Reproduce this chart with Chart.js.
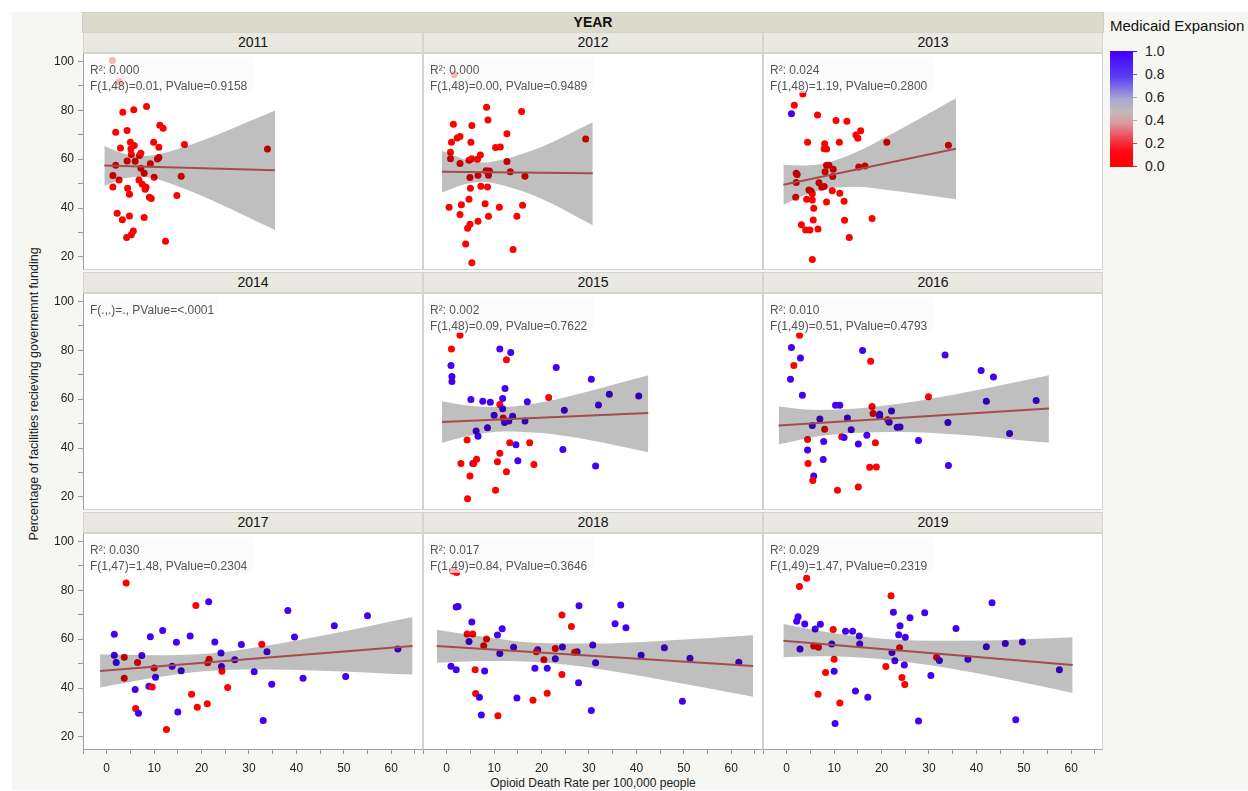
<!DOCTYPE html>
<html>
<head>
<meta charset="utf-8">
<script src="https://cdn.jsdelivr.net/npm/chart.js@4.4.1/dist/chart.umd.min.js"></script>
<style>
  body { margin: 0; background: #fff; font-family: 'Liberation Sans', Arial, sans-serif; }
  #wrap { position: relative; width: 1248px; height: 791px; overflow: hidden; }
  #wrap div, #wrap canvas { position: absolute; box-sizing: border-box; }
  .strip { background: #e9e8e1; border: 1px solid #d6d5cc; text-align: center; font-size: 14px; line-height: 19px; color: #111; }
  .panel { background: #fff; border: 1px solid #d2d2d2; }
  .note { background: rgba(250,250,250,0.72); color: #555; font-size: 12px; line-height: 16px; padding: 5px 0 0 4px; white-space: nowrap; z-index: 3; }
  canvas { z-index: 2; }
</style>
</head>
<body>
<div id="wrap"></div>
<script>
const years = ['2011', '2012', '2013', '2014', '2015', '2016', '2017', '2018', '2019'];
const statR2 = ['R²: 0.000', 'R²: 0.000', 'R²: 0.024', null, 'R²: 0.002', 'R²: 0.010', 'R²: 0.030', 'R²: 0.017', 'R²: 0.029'];
const statF = ['F(1,48)=0.01, PValue=0.9158', 'F(1,48)=0.00, PValue=0.9489', 'F(1,48)=1.19, PValue=0.2800',
  'F(.,.)=., PValue=<.0001', 'F(1,48)=0.09, PValue=0.7622', 'F(1,49)=0.51, PValue=0.4793',
  'F(1,47)=1.48, PValue=0.2304', 'F(1,49)=0.84, PValue=0.3646', 'F(1,49)=1.47, PValue=0.2319'];

const xTicks = [-5, 0, 5, 10, 15, 20, 25, 30, 35, 40, 45, 50, 55, 60, 65];
const yTicks = [20, 30, 40, 50, 60, 70, 80, 90, 100];
const legendTicks = ['1.0', '0.8', '0.6', '0.4', '0.2', '0.0'];

// opioid death rate (x), % facilities with government funding (y), medicaid expansion (0/1)
const x2011 = [1.2, 2.7, 3.4, 5.7, 8.4, 1.9, 4.3, 11.2, 11.9, 2.9, 5.0, 5.8, 5.1, 5.2, 7.2, 6.9, 9.9, 11.0, 16.4, 33.9, 10.7, 11.0, 1.9, 4.3, 6.0, 9.2, 7.2, 7.9, 1.3, 2.6, 10.0, 15.7, 6.8, 7.5, 8.3, 8.1, 1.3, 4.4, 4.8, 9.0, 9.4, 14.8, 2.2, 3.3, 4.8, 7.9, 5.6, 5.2, 4.2, 12.4];
const y2011 = [100.4, 91.7, 79.2, 80.3, 81.6, 71.0, 71.7, 73.9, 72.7, 64.6, 66.9, 65.6, 64.2, 61.9, 62.4, 61.5, 66.9, 64.9, 66.0, 64.2, 60.1, 60.7, 57.5, 59.3, 59.2, 58.1, 56.3, 54.2, 53.3, 51.5, 52.6, 53.0, 51.5, 49.7, 48.5, 47.7, 48.6, 48.1, 45.6, 44.4, 43.9, 45.1, 37.8, 35.2, 36.7, 36.1, 30.6, 29.0, 27.9, 26.4];
const exp2011 = [0, 0, 0, 0, 0, 0, 0, 0, 0, 0, 0, 0, 0, 0, 0, 0, 0, 0, 0, 0, 0, 0, 0, 0, 0, 0, 0, 0, 0, 0, 0, 0, 0, 0, 0, 0, 0, 0, 0, 0, 0, 0, 0, 0, 0, 0, 0, 0, 0, 0];

const x2012 = [1.6, 8.4, 8.7, 15.8, 1.4, 5.3, 1.0, 2.2, 2.8, 5.1, 12.7, 10.3, 11.3, 0.8, 0.8, 2.8, 4.7, 5.3, 6.5, 7.1, 12.7, 29.3, 8.3, 9.0, 6.6, 8.8, 4.9, 13.4, 16.5, 7.2, 8.6, 5.0, 4.7, 0.5, 3.1, 8.1, 11.1, 16.0, 2.8, 8.8, 14.8, 6.6, 4.9, 4.4, 4.0, 14.0, 5.3];
const y2012 = [94.7, 81.3, 76.1, 79.5, 74.3, 73.8, 66.9, 68.7, 69.3, 66.9, 70.4, 64.8, 65.0, 62.8, 60.2, 58.2, 59.6, 60.2, 60.0, 61.7, 59.0, 68.3, 55.3, 55.2, 53.4, 53.4, 52.5, 54.9, 53.0, 48.9, 48.6, 48.1, 43.6, 40.3, 41.3, 41.7, 40.3, 41.1, 37.3, 36.6, 36.6, 34.6, 33.3, 31.7, 25.3, 23.0, 17.6];
const exp2012 = [0, 0, 0, 0, 0, 0, 0, 0, 0, 0, 0, 0, 0, 0, 0, 0, 0, 0, 0, 0, 0, 0, 0, 0, 0, 0, 0, 0, 0, 0, 0, 0, 0, 0, 0, 0, 0, 0, 0, 0, 0, 0, 0, 0, 0, 0, 0];

const x2013 = [3.4, 1.6, 1.0, 6.5, 10.4, 12.7, 15.6, 14.6, 15.0, 4.4, 8.0, 7.9, 8.4, 11.1, 21.1, 34.1, 8.4, 8.9, 8.1, 9.8, 9.7, 15.2, 16.5, 2.0, 2.2, 2.0, 6.8, 7.4, 7.9, 4.7, 5.1, 5.4, 1.9, 4.2, 5.4, 9.6, 11.2, 8.4, 12.1, 5.7, 5.6, 12.2, 18.0, 3.1, 4.0, 4.9, 6.6, 13.2, 5.4];
const y2013 = [86.7, 82.1, 78.6, 78.1, 75.8, 75.5, 71.6, 69.9, 68.6, 66.9, 66.3, 64.3, 64.2, 66.9, 66.9, 65.7, 57.5, 57.5, 54.9, 55.9, 52.9, 56.8, 57.2, 54.2, 53.7, 50.4, 50.3, 48.5, 48.8, 47.4, 47.0, 45.8, 44.4, 43.6, 43.3, 47.1, 46.0, 42.5, 42.8, 39.9, 35.1, 35.0, 35.7, 33.1, 31.0, 31.0, 31.4, 27.9, 18.9];
const exp2013 = [0, 0, 1, 0, 0, 0, 0, 0, 0, 0, 0, 0, 0, 0, 0, 0, 0, 0, 0, 0, 0, 0, 0, 0, 0, 0, 0, 0, 0, 0, 0, 0, 0, 0, 0, 0, 0, 0, 0, 0, 0, 0, 0, 0, 0, 0, 0, 0, 0];

const x2015 = [2.8, 1.0, 11.2, 13.5, 12.6, 0.9, 1.1, 1.1, 23.1, 30.5, 12.3, 11.8, 5.1, 7.6, 9.2, 11.2, 17.0, 21.5, 34.3, 40.5, 32.0, 11.8, 24.8, 10.0, 11.9, 13.9, 12.2, 13.1, 16.5, 8.6, 6.2, 6.6, 4.3, 13.3, 17.5, 14.6, 24.5, 11.2, 6.3, 5.5, 3.0, 10.7, 15.0, 18.4, 31.4, 4.9, 12.6, 10.3, 4.4, 5.7];
const y2015 = [86.2, 80.6, 80.6, 79.1, 76.2, 73.8, 69.3, 67.2, 73.0, 68.2, 64.4, 60.3, 59.9, 59.2, 58.7, 57.8, 58.9, 60.7, 62.0, 61.3, 57.6, 56.1, 55.5, 53.4, 52.3, 53.0, 50.4, 51.1, 51.1, 48.3, 47.0, 44.8, 43.3, 42.1, 42.1, 41.3, 39.4, 37.9, 35.4, 33.7, 33.7, 34.4, 34.8, 33.2, 32.6, 28.5, 30.3, 22.7, 19.2, 33.7];
const exp2015 = [0, 0, 1, 1, 0, 1, 1, 1, 1, 1, 1, 1, 1, 1, 1, 0, 1, 0, 1, 1, 1, 1, 1, 1, 0, 1, 1, 1, 1, 1, 1, 1, 0, 0, 0, 1, 1, 0, 0, 1, 0, 0, 1, 0, 1, 0, 0, 0, 0, 0];

const x2016 = [2.7, 1.0, 2.9, 1.5, 0.8, 16.0, 17.7, 33.4, 41.0, 43.6, 3.3, 29.9, 42.1, 52.6, 10.3, 11.2, 18.0, 18.2, 19.6, 19.6, 22.1, 7.0, 12.8, 21.3, 21.6, 5.4, 8.0, 13.6, 23.3, 23.9, 34.0, 11.6, 12.1, 16.9, 47.0, 4.4, 7.8, 15.1, 18.7, 27.8, 4.4, 7.7, 4.5, 17.5, 18.9, 34.1, 5.7, 5.5, 10.7, 15.1];
const y2016 = [86.2, 81.2, 76.9, 73.8, 68.2, 79.9, 75.5, 78.1, 71.7, 69.1, 61.6, 61.0, 59.2, 59.5, 57.5, 57.5, 57.0, 54.1, 53.8, 53.0, 55.2, 51.9, 52.3, 51.6, 50.5, 49.2, 47.7, 47.5, 48.5, 48.6, 50.4, 44.6, 44.3, 45.2, 45.9, 43.5, 42.7, 41.6, 42.1, 43.1, 39.2, 35.3, 33.7, 32.1, 32.2, 32.8, 28.5, 26.7, 22.7, 24.0];
const exp2016 = [0, 1, 1, 0, 1, 1, 0, 1, 1, 1, 1, 0, 1, 1, 1, 1, 0, 0, 1, 1, 1, 1, 1, 0, 1, 1, 0, 1, 1, 1, 1, 0, 1, 1, 1, 0, 1, 1, 0, 1, 1, 1, 0, 0, 0, 1, 1, 0, 0, 0];

const x2017 = [4.1, 18.8, 21.5, 38.2, 55.0, 48.0, 1.6, 11.8, 9.2, 17.6, 39.6, 14.7, 22.8, 28.4, 32.7, 61.4, 33.8, 24.1, 1.6, 7.4, 3.7, 2.0, 6.5, 21.6, 21.3, 27.0, 10.0, 13.8, 15.7, 24.2, 24.3, 31.1, 3.7, 10.3, 41.4, 50.4, 8.9, 9.6, 6.0, 25.5, 34.8, 17.9, 6.1, 6.7, 19.1, 21.2, 15.0, 33.0, 12.6];
const y2017 = [83.0, 73.8, 75.3, 71.7, 69.6, 65.5, 62.0, 63.6, 61.0, 61.3, 60.9, 58.7, 58.8, 57.8, 57.9, 56.0, 54.8, 54.3, 53.4, 53.3, 52.6, 50.4, 50.4, 51.8, 50.3, 51.6, 48.2, 48.9, 47.1, 48.8, 46.9, 46.7, 44.0, 44.4, 44.0, 44.7, 40.7, 40.4, 39.4, 40.2, 41.5, 37.4, 31.6, 29.7, 32.1, 33.5, 30.2, 26.7, 23.0];
const exp2017 = [0, 0, 1, 1, 1, 1, 1, 1, 1, 1, 1, 1, 1, 1, 0, 1, 1, 1, 1, 1, 0, 1, 0, 0, 0, 1, 0, 1, 1, 1, 0, 1, 0, 1, 1, 1, 1, 0, 1, 0, 1, 0, 0, 1, 0, 0, 1, 1, 0];

const x2018 = [1.3, 2.1, 2.0, 2.4, 27.9, 36.7, 24.3, 5.3, 35.5, 26.3, 37.8, 11.7, 10.7, 4.3, 5.5, 8.4, 4.7, 7.8, 14.1, 11.2, 24.4, 22.9, 19.2, 18.9, 30.8, 27.5, 27.0, 45.9, 41.0, 20.5, 22.9, 31.4, 51.3, 61.6, 0.9, 2.0, 6.0, 8.0, 18.6, 21.2, 24.3, 27.8, 6.1, 6.9, 21.2, 14.8, 18.2, 49.7, 7.3, 10.8, 30.5];
const y2018 = [87.9, 87.3, 73.2, 73.4, 73.7, 74.0, 69.9, 67.0, 66.3, 65.2, 64.7, 64.3, 61.7, 62.1, 62.1, 60.1, 59.1, 57.3, 56.7, 54.1, 56.8, 56.2, 55.7, 54.9, 57.6, 54.9, 54.6, 56.5, 53.4, 51.6, 52.0, 50.3, 52.2, 50.5, 48.9, 47.5, 47.5, 47.0, 48.1, 48.1, 45.5, 42.1, 37.7, 36.2, 37.9, 35.9, 35.0, 34.6, 28.9, 28.6, 30.8];
const exp2018 = [0, 0, 1, 1, 1, 1, 0, 1, 1, 0, 1, 1, 1, 0, 0, 0, 1, 0, 1, 1, 1, 0, 1, 0, 1, 1, 0, 1, 1, 0, 1, 1, 1, 1, 1, 1, 0, 1, 1, 1, 0, 1, 0, 1, 0, 1, 0, 1, 1, 0, 1];

const x2019 = [4.2, 2.7, 22.0, 43.3, 22.5, 29.1, 2.4, 2.1, 3.8, 7.1, 26.0, 23.9, 6.0, 9.8, 12.4, 13.9, 35.7, 15.3, 23.6, 25.0, 9.5, 15.4, 5.7, 6.7, 2.8, 42.1, 46.1, 49.7, 23.8, 22.2, 10.0, 22.8, 31.6, 32.2, 38.2, 10.0, 8.2, 20.9, 24.8, 30.4, 24.3, 24.9, 57.5, 14.5, 17.1, 6.6, 11.2, 10.2, 27.8, 48.3];
const y2019 = [85.0, 81.6, 77.8, 74.9, 71.0, 70.8, 69.2, 67.3, 66.2, 66.1, 68.8, 65.5, 64.2, 64.0, 63.2, 63.2, 64.4, 61.3, 61.8, 60.8, 58.0, 58.0, 57.2, 56.7, 56.0, 56.9, 58.2, 58.8, 56.5, 54.5, 51.8, 51.2, 52.6, 51.3, 51.8, 46.9, 46.4, 48.8, 49.4, 45.1, 44.3, 41.4, 47.5, 38.8, 36.2, 37.4, 33.9, 25.5, 26.5, 27.0];
const exp2019 = [0, 0, 0, 1, 1, 1, 1, 1, 1, 1, 1, 1, 1, 0, 1, 1, 1, 1, 1, 1, 1, 1, 0, 0, 1, 1, 1, 1, 0, 1, 0, 1, 0, 1, 1, 1, 0, 0, 1, 1, 0, 0, 1, 1, 1, 0, 0, 1, 1, 1];

// fitted line end points and confidence band
const fitX2011 = [-0.5, 35.5], fitY2011 = [57.4, 55.5];
const bandX2011 = [-0.5, 4, 8, 14, 22, 35.5];
const bandHi2011 = [65.4, 62.1, 61.3, 63.6, 69.0, 79.9];
const bandLo2011 = [49.0, 52.3, 52.7, 49.6, 43.3, 31.0];

const fitX2012 = [-1.0, 30.8], fitY2012 = [54.9, 54.2];
const bandX2012 = [-1.0, 4, 7.5, 12, 20, 30.8];
const bandHi2012 = [63.5, 59.8, 58.6, 60.0, 65.0, 75.1];
const bandLo2012 = [46.3, 49.8, 50.8, 49.2, 43.8, 32.9];

const fitX2013 = [-0.7, 35.7], fitY2013 = [49.5, 64.3];
const bandX2013 = [-0.7, 4, 8, 14, 22, 35.7];
const bandHi2013 = [57.7, 57.4, 58.3, 62.3, 70.2, 85.0];
const bandLo2013 = [41.3, 45.4, 47.7, 48.7, 47.2, 43.6];

const fitX2015 = [-1.0, 42.5], fitY2015 = [50.7, 54.3];
const bandX2015 = [-1.0, 6, 12, 20, 30, 42.5];
const bandHi2015 = [59.2, 57.1, 56.8, 58.7, 63.3, 69.8];
const bandLo2015 = [42.2, 45.5, 46.8, 46.1, 43.3, 38.3];

const fitX2016 = [-1.7, 55.3], fitY2016 = [49.2, 56.2];
const bandX2016 = [-1.7, 6, 14, 24, 36, 55.3];
const bandHi2016 = [57.0, 55.6, 56.1, 58.2, 62.1, 69.8];
const bandLo2016 = [41.4, 44.6, 46.1, 46.6, 45.5, 42.1];

const fitX2017 = [-1.4, 64.5], fitY2017 = [47.0, 57.2];
const bandX2017 = [-1.4, 10, 21, 32, 45, 64.5];
const bandHi2017 = [53.8, 53.4, 54.0, 56.8, 61.3, 69.1];
const bandLo2017 = [40.2, 44.2, 47.0, 47.6, 47.1, 45.5];

const fitX2018 = [-2.1, 64.6], fitY2018 = [57.2, 49.0];
const bandX2018 = [-2.1, 8, 19, 30, 45, 64.6];
const bandHi2018 = [63.9, 60.9, 58.5, 58.2, 59.3, 61.6];
const bandLo2018 = [50.3, 51.1, 50.7, 48.4, 43.5, 36.4];

const fitX2019 = [-0.7, 60.3], fitY2019 = [59.4, 49.4];
const bandX2019 = [-0.7, 8, 19, 30, 42, 60.3];
const bandHi2019 = [66.2, 63.0, 60.4, 59.4, 59.5, 60.8];
const bandLo2019 = [52.6, 53.0, 52.0, 49.4, 45.3, 38.0];

const panelData = {
  '2011': { x: x2011, y: y2011, m: exp2011, fx: fitX2011, fy: fitY2011, bx: bandX2011, bh: bandHi2011, bl: bandLo2011 },
  '2012': { x: x2012, y: y2012, m: exp2012, fx: fitX2012, fy: fitY2012, bx: bandX2012, bh: bandHi2012, bl: bandLo2012 },
  '2013': { x: x2013, y: y2013, m: exp2013, fx: fitX2013, fy: fitY2013, bx: bandX2013, bh: bandHi2013, bl: bandLo2013 },
  '2014': null,
  '2015': { x: x2015, y: y2015, m: exp2015, fx: fitX2015, fy: fitY2015, bx: bandX2015, bh: bandHi2015, bl: bandLo2015 },
  '2016': { x: x2016, y: y2016, m: exp2016, fx: fitX2016, fy: fitY2016, bx: bandX2016, bh: bandHi2016, bl: bandLo2016 },
  '2017': { x: x2017, y: y2017, m: exp2017, fx: fitX2017, fy: fitY2017, bx: bandX2017, bh: bandHi2017, bl: bandLo2017 },
  '2018': { x: x2018, y: y2018, m: exp2018, fx: fitX2018, fy: fitY2018, bx: bandX2018, bh: bandHi2018, bl: bandLo2018 },
  '2019': { x: x2019, y: y2019, m: exp2019, fx: fitX2019, fy: fitY2019, bx: bandX2019, bh: bandHi2019, bl: bandLo2019 }
};

const FONT = "'Liberation Sans', Arial, sans-serif";
const wrap = document.getElementById('wrap');

const addDiv = (css, text, cls) => {
  const d = document.createElement('div');
  d.style.cssText = css;
  if (cls) d.className = cls;
  if (text != null) d.innerHTML = text;
  wrap.appendChild(d);
  return d;
};

const zip = (xs, ys) => xs.map((v, i) => ({ x: v, y: ys[i] }));
const expColor = (m) => m >= 0.5 ? '#4300f4' : '#ff0000';

// background + header
addDiv('left:12px;top:12px;width:1236px;height:778px;background:#f6f6f2;');
addDiv('left:82px;top:12px;width:1022px;height:21px;background:#dcdacb;border:1px solid #d0cebf;text-align:center;font-weight:bold;font-size:14px;line-height:19px;color:#111;', 'YEAR');

years.forEach((yr, i) => {
  const r = Math.floor(i / 3), c = i % 3;
  const left = 83 + c * 340;
  const stripTop = 32 + r * 240;
  const top = stripTop + 21;

  addDiv(`left:${left}px;top:${stripTop}px;width:340px;height:21px;`, yr, 'strip');
  const pnl = addDiv(`left:${left}px;top:${top}px;width:340px;height:217px;`, null, 'panel');
  if (c === 0) pnl.style.borderLeftColor = '#a0a0a0';
  if (r === 2) pnl.style.borderBottomColor = '#a0a0a0';

  const axW = c === 0 ? 50 : 0;
  const axH = r === 2 ? 30 : 0;
  const cv = document.createElement('canvas');
  cv.width = 340 + axW;
  cv.height = 217 + axH;
  cv.style.left = (left - axW) + 'px';
  cv.style.top = top + 'px';
  wrap.appendChild(cv);

  const d = panelData[yr];
  const datasets = [];
  if (d) {
    datasets.push({
      type: 'line', data: zip(d.bx, d.bl), borderColor: 'rgba(0,0,0,0)', borderWidth: 0,
      pointRadius: 0, fill: false, order: 1, cubicInterpolationMode: 'monotone'
    });
    datasets.push({
      type: 'line', data: zip(d.bx, d.bh), borderColor: 'rgba(0,0,0,0)', borderWidth: 0,
      pointRadius: 0, fill: '-1', backgroundColor: 'rgba(0,0,0,0.25)', order: 1, cubicInterpolationMode: 'monotone'
    });
    datasets.push({
      type: 'line', data: zip(d.fx, d.fy), borderColor: '#a44c4c', borderWidth: 2,
      pointRadius: 0, fill: false, order: 0
    });
    datasets.push({
      type: 'scatter', data: zip(d.x, d.y), backgroundColor: d.m.map(expColor),
      pointRadius: 3.5, pointBorderWidth: 0, order: 2
    });
  }

  new Chart(cv, {
    type: 'scatter',
    data: { datasets },
    options: {
      responsive: false,
      animation: false,
      events: [],
      layout: { padding: 0, autoPadding: false },
      plugins: { legend: { display: false }, tooltip: { enabled: false } },
      scales: {
        x: {
          type: 'linear', min: -5, max: 66.7, display: r === 2,
          afterBuildTicks: (s) => { s.ticks = xTicks.map(v => ({ value: v })); },
          afterFit: (s) => { if (r === 2) s.height = 30; s.paddingLeft = 0; s.paddingRight = 0; },
          border: { display: false },
          grid: { drawOnChartArea: false, drawTicks: true, tickLength: 4, tickColor: '#9a9a9a' },
          ticks: {
            autoSkip: false, maxRotation: 0, padding: 7, color: '#222',
            font: { family: FONT, size: 12 },
            callback: (v) => (v % 10 === 0 && v >= 0 && v <= 60) ? String(v) : ''
          }
        },
        y: {
          type: 'linear', min: 14.6, max: 103.5, display: c === 0,
          afterBuildTicks: (s) => { s.ticks = yTicks.map(v => ({ value: v })); },
          afterFit: (s) => { if (c === 0) s.width = 50; s.paddingTop = 0; s.paddingBottom = 0; },
          border: { display: false },
          grid: { drawOnChartArea: false, drawTicks: true, tickLength: 5, tickColor: '#9a9a9a' },
          ticks: {
            autoSkip: false, padding: 4, color: '#222',
            font: { family: FONT, size: 12 },
            callback: (v) => v % 20 === 0 ? String(v) : ''
          }
        }
      }
    }
  });

  // fit statistics box
  const lines = [statR2[i], statF[i]].filter(Boolean);
  addDiv(`left:${left + 3}px;top:${top + 4}px;width:${i === 3 ? 131 : 167}px;height:${lines.length * 16 + 4}px;`,
    lines.join('<br>'), 'note');
});

// axis titles
addDiv(`left:34px;top:394px;transform:translate(-50%,-50%) rotate(-90deg);font-size:12.5px;color:#222;white-space:nowrap;`,
  'Percentage of facilities recieving governemnt funding');
addDiv(`left:593px;top:783px;transform:translate(-50%,-50%);font-size:12px;color:#222;white-space:nowrap;`,
  'Opioid Death Rate per 100,000 people');

// colour legend
addDiv('left:1110px;top:17px;font-size:15px;color:#111;white-space:nowrap;', 'Medicaid Expansion');
addDiv('left:1110px;top:51px;width:23px;height:116px;background:linear-gradient(to bottom,#4200ff 0%,#5a3cf2 22%,#a9a8d0 42%,#c2baba 52%,#d99a9e 62%,#f0404c 76%,#ff0a14 86%,#ff0000 100%);');
const tickCols = ['#4a20ff', '#6a5af0', '#aaa8d0', '#dc9aa0', '#f03a48', '#ff1010'];
legendTicks.forEach((t, k) => {
  const yy = 51 + k * 23;
  addDiv(`left:1133px;top:${yy}px;width:4px;height:1px;background:${tickCols[k]};`);
  addDiv(`left:1145px;top:${yy - 9}px;font-size:14px;line-height:18px;color:#222;`, t);
});
</script>
</body>
</html>
